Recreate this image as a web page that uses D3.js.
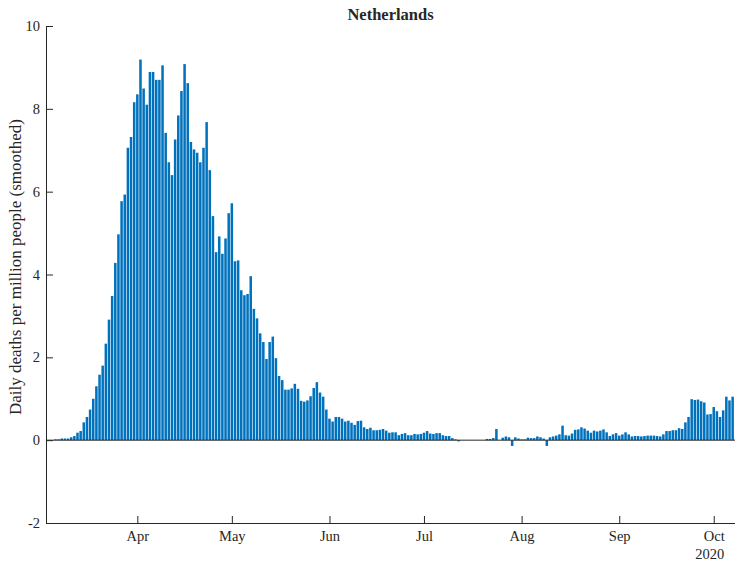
<!DOCTYPE html>
<html>
<head>
<meta charset="utf-8">
<script src="https://cdn.jsdelivr.net/npm/d3@7"></script>
<style>
  body { margin: 0; background: #fff; }
  svg text { font-family: "Liberation Serif", "Times New Roman", serif; fill: #262626; }
</style>
</head>
<body>
<div id="chart"></div>
<script>
// daily deaths per million (smoothed), first value is 6 March 2020
var firstDay = Date.UTC(2020, 2, 6);
var march = [0.02, 0.02, 0.04, 0.04, 0.04, 0.07, 0.10, 0.18, 0.22, 0.43, 0.56, 0.74, 1.00,
             1.30, 1.58, 1.80, 2.33, 2.91, 3.48, 4.28, 4.97, 5.77, 5.93, 7.06, 7.32, 8.16];
var april = [8.35, 9.19, 8.49, 8.10, 8.89, 8.89, 8.70, 8.70, 9.05, 7.42, 6.71, 6.40, 7.26, 7.84, 8.43,
             9.08, 8.62, 7.20, 7.02, 6.94, 6.71, 7.06, 7.68, 6.52, 5.41, 4.54, 4.92, 4.50, 4.87, 5.48];
var may = [5.72, 4.32, 4.34, 3.62, 3.50, 3.53, 3.96, 3.17, 2.94, 2.58, 2.37, 1.96, 2.37, 2.50, 1.98, 1.55,
           1.45, 1.22, 1.22, 1.25, 1.36, 1.24, 0.95, 0.93, 0.96, 1.06, 1.26, 1.40, 1.15, 1.05, 0.74];
var june = [0.52, 0.45, 0.56, 0.56, 0.52, 0.45, 0.47, 0.42, 0.37, 0.46, 0.47, 0.31, 0.27, 0.30, 0.24,
            0.24, 0.25, 0.27, 0.23, 0.18, 0.19, 0.19, 0.12, 0.15, 0.17, 0.12, 0.12, 0.15, 0.14, 0.15];
var july = [0.18, 0.22, 0.16, 0.15, 0.17, 0.17, 0.12, 0.10, 0.10, 0.05, 0.02, -0.03, 0, 0, 0, 0,
            0, 0, 0, 0, 0.03, 0.03, 0.05, 0.27, 0, 0.06, 0.09, 0.07, -0.14, 0.07, 0.04];
var august = [0.02, 0.02, 0.06, 0.05, 0.05, 0.09, 0.07, 0.04, -0.14, 0.07, 0.09, 0.11, 0.14, 0.35, 0.12,
              0.11, 0.16, 0.25, 0.26, 0.31, 0.28, 0.23, 0.18, 0.23, 0.21, 0.23, 0.26, 0.19, 0.10, 0.14, 0.17];
var september = [0.11, 0.14, 0.19, 0.14, 0.09, 0.10, 0.10, 0.09, 0.10, 0.11, 0.11, 0.11, 0.10, 0.09, 0.14,
                 0.22, 0.22, 0.24, 0.24, 0.29, 0.27, 0.43, 0.56, 0.99, 0.97, 0.98, 0.94, 0.91, 0.62, 0.63];
var october = [0.80, 0.70, 0.56, 0.72, 1.05, 0.96, 1.05];

var yTicks = [-2, 0, 2, 4, 6, 8, 10];
var title = 'Netherlands';
var yLabel = 'Daily deaths per million people (smoothed)';
var yearLabel = '2020';

var width = 735, height = 561;
var plotLeft = 46, plotRight = 735, plotTop = 26, plotBottom = 523;

var values = [].concat(march, april, may, june, july, august, september, october);
var data = values.map(function (v, i) {
    return { date: d3.utcDay.offset(new Date(firstDay), i), value: v };
});

var x = d3.scaleUtc()
    .domain([new Date(Date.UTC(2020, 2, 3)), new Date(Date.UTC(2020, 9, 7, 18))])
    .range([plotLeft, plotRight]);
var y = d3.scaleLinear().domain([-2, 10]).range([plotBottom, plotTop]);

var dayWidth = x(new Date(Date.UTC(2020, 3, 2))) - x(new Date(Date.UTC(2020, 3, 1)));
var barWidth = dayWidth * 0.8;

var svg = d3.select('#chart').append('svg')
    .attr('width', width)
    .attr('height', height)
    .attr('viewBox', [0, 0, width, height]);

// bars
svg.append('g').selectAll('rect')
    .data(data)
    .join('rect')
    .attr('x', d => x(d.date) - barWidth / 2)
    .attr('y', d => y(Math.max(0, d.value)))
    .attr('width', barWidth)
    .attr('height', d => Math.abs(y(d.value) - y(0)))
    .attr('fill', '#0072BD');

// baseline at zero
svg.append('line')
    .attr('x1', plotLeft).attr('x2', plotRight)
    .attr('y1', y(0)).attr('y2', y(0))
    .attr('stroke', '#262626')
    .attr('stroke-width', 1);

var monthTicks = x.ticks(d3.utcMonth.every(1)).filter(d => x(d) > plotLeft);

var xAxis = svg.append('g')
    .attr('transform', `translate(0,${plotBottom})`)
    .call(d3.axisBottom(x)
        .tickValues(monthTicks)
        .tickFormat(d3.utcFormat('%b'))
        .tickSizeInner(-7)
        .tickSizeOuter(0)
        .tickPadding(8));

var yAxis = svg.append('g')
    .attr('transform', `translate(${plotLeft},0)`)
    .call(d3.axisLeft(y)
        .tickValues(yTicks)
        .tickFormat(d => String(d))   // plain hyphen, like the original
        .tickSizeInner(-7)
        .tickSizeOuter(0)
        .tickPadding(6));

svg.selectAll('.domain').attr('stroke', '#262626');
svg.selectAll('.tick line').attr('stroke', '#262626');
svg.selectAll('.tick text').attr('font-size', '14.5px').attr('fill', '#262626');
xAxis.select('.domain').attr('d', `M${plotLeft},0.5H${plotRight}`);
yAxis.select('.domain').attr('d', `M0.5,${plotTop}V${plotBottom + 0.5}`);

// year under the last month label, right aligned with it
var lastLabel = xAxis.selectAll('.tick text').nodes().pop();
var lastX = x(monthTicks[monthTicks.length - 1]) + lastLabel.getComputedTextLength() / 2;
svg.append('text')
    .attr('x', lastX)
    .attr('y', 559)
    .attr('text-anchor', 'end')
    .attr('font-size', '14.5px')
    .text(yearLabel);

svg.append('text')
    .attr('x', (plotLeft + plotRight) / 2)
    .attr('y', 19.5)
    .attr('text-anchor', 'middle')
    .attr('font-size', '16.5px')
    .attr('font-weight', 'bold')
    .text(title);

svg.append('text')
    .attr('transform', 'translate(21,267) rotate(-90)')
    .attr('text-anchor', 'middle')
    .attr('font-size', '17px')
    .text(yLabel);
</script>
</body>
</html>
